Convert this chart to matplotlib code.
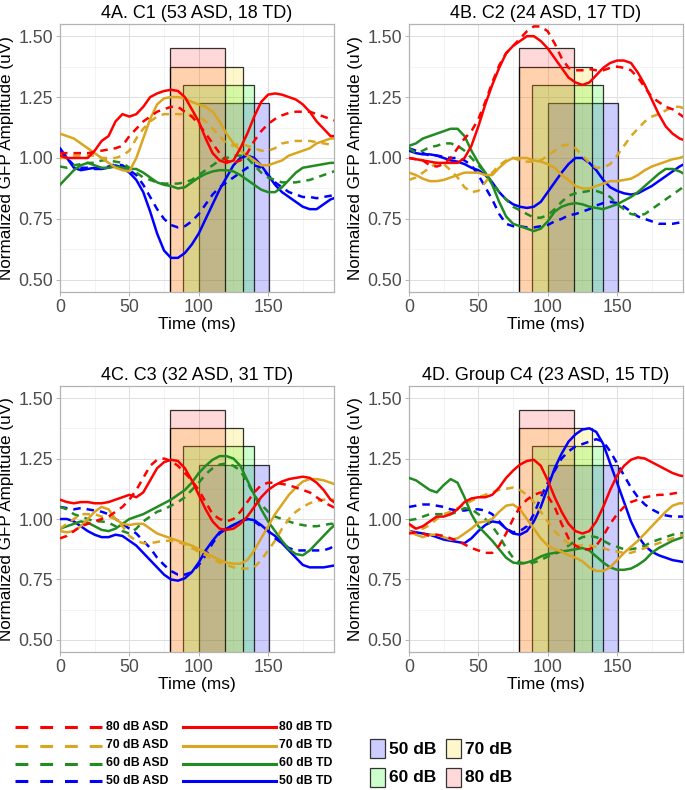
import numpy as np
import matplotlib.pyplot as plt
from matplotlib.colors import to_rgb
from matplotlib.patches import Rectangle
from matplotlib.lines import Line2D

plt.rcParams['font.family'] = ['Liberation Sans', 'DejaVu Sans']

# time axis (ms), one reading every 5 ms
TIME = np.arange(0, 201, 5)

# ---- 4A. C1 ----
A_TD80 = [1.01,1.00,1.00,1.00,1.00,1.03,1.07,1.09,1.15,1.18,1.17,1.18,1.21,1.25,1.265,1.275,1.28,1.275,1.25,1.20,1.15,1.08,1.02,0.99,0.98,0.99,1.04,1.10,1.17,1.23,1.26,1.265,1.26,1.25,1.24,1.22,1.19,1.15,1.12,1.09,1.09]
A_ASD80 = [1.02,1.02,1.02,1.02,1.02,1.025,1.03,1.035,1.04,1.05,1.09,1.12,1.15,1.17,1.19,1.20,1.21,1.21,1.19,1.17,1.14,1.10,1.06,1.02,0.99,0.98,0.99,1.02,1.07,1.11,1.14,1.16,1.175,1.185,1.19,1.19,1.19,1.18,1.17,1.16,1.15]
A_TD70 = [1.10,1.09,1.08,1.06,1.04,1.02,1.00,0.98,0.96,0.95,0.945,1.00,1.08,1.16,1.22,1.245,1.25,1.25,1.245,1.23,1.22,1.21,1.19,1.15,1.10,1.06,1.03,1.01,0.99,0.97,0.97,0.98,0.99,1.01,1.02,1.03,1.04,1.06,1.07,1.08,1.08]
A_ASD70 = [1.00,1.00,1.01,1.01,1.01,1.01,1.00,1.00,1.00,1.01,1.03,1.08,1.12,1.15,1.17,1.18,1.18,1.18,1.18,1.175,1.17,1.15,1.12,1.09,1.06,1.05,1.06,1.05,1.04,1.03,1.03,1.04,1.06,1.065,1.07,1.07,1.07,1.065,1.06,1.055,1.05]
A_TD60 = [0.89,0.92,0.95,0.97,0.98,0.97,0.96,0.96,0.965,0.96,0.955,0.955,0.94,0.92,0.90,0.89,0.885,0.875,0.88,0.90,0.92,0.935,0.945,0.95,0.95,0.945,0.93,0.91,0.89,0.87,0.86,0.86,0.88,0.91,0.94,0.96,0.965,0.97,0.975,0.98,0.98]
A_ASD60 = [0.965,0.96,0.97,0.975,0.98,0.98,0.99,0.99,0.985,0.98,0.96,0.94,0.92,0.91,0.90,0.895,0.895,0.895,0.90,0.91,0.93,0.95,0.97,0.99,1.00,1.01,1.01,1.00,0.97,0.94,0.92,0.91,0.90,0.90,0.90,0.905,0.91,0.92,0.93,0.94,0.95]
A_TD50 = [1.04,1.00,0.96,0.95,0.955,0.96,0.955,0.96,0.97,0.96,0.94,0.91,0.86,0.78,0.69,0.62,0.59,0.59,0.61,0.645,0.69,0.75,0.81,0.87,0.92,0.97,1.00,1.01,1.00,0.97,0.93,0.89,0.86,0.84,0.82,0.80,0.79,0.79,0.81,0.83,0.84]
A_ASD50 = [1.03,1.00,0.97,0.96,0.96,0.955,0.955,0.965,0.975,0.97,0.95,0.93,0.89,0.84,0.79,0.75,0.725,0.715,0.72,0.74,0.77,0.81,0.85,0.88,0.90,0.92,0.94,0.96,0.97,0.96,0.93,0.90,0.88,0.86,0.85,0.84,0.84,0.835,0.84,0.845,0.85]

# ---- 4B. C2 ----
B_TD80 = [1.00,0.995,0.99,0.985,0.98,0.98,0.98,0.98,1.00,1.05,1.13,1.22,1.30,1.37,1.43,1.46,1.48,1.50,1.50,1.48,1.45,1.41,1.37,1.33,1.31,1.30,1.31,1.34,1.37,1.39,1.40,1.40,1.39,1.35,1.30,1.24,1.18,1.13,1.10,1.08,1.07]
B_ASD80 = [1.00,0.995,0.99,0.97,0.965,0.975,1.00,1.04,1.08,1.11,1.16,1.23,1.31,1.38,1.43,1.46,1.49,1.52,1.54,1.54,1.52,1.47,1.41,1.37,1.36,1.36,1.365,1.36,1.36,1.37,1.375,1.37,1.36,1.33,1.29,1.25,1.23,1.21,1.20,1.18,1.16]
B_TD70 = [0.94,0.93,0.915,0.905,0.905,0.91,0.92,0.93,0.94,0.94,0.94,0.93,0.93,0.96,0.985,1.00,1.00,1.00,0.99,0.985,0.975,0.96,0.93,0.91,0.885,0.875,0.875,0.885,0.895,0.905,0.905,0.91,0.915,0.93,0.95,0.965,0.975,0.985,0.995,1.00,1.01]
B_ASD70 = [0.91,0.92,0.94,0.96,0.98,0.975,0.95,0.92,0.88,0.86,0.865,0.90,0.94,0.97,0.99,1.00,0.99,0.985,0.985,0.99,1.01,1.03,1.05,1.055,1.04,1.01,0.98,0.96,0.96,0.975,1.01,1.05,1.09,1.12,1.15,1.17,1.18,1.195,1.21,1.21,1.20]
B_TD60 = [1.05,1.06,1.08,1.09,1.10,1.11,1.12,1.12,1.09,1.03,0.98,0.94,0.89,0.82,0.76,0.73,0.72,0.71,0.70,0.71,0.74,0.78,0.80,0.81,0.815,0.81,0.80,0.795,0.79,0.80,0.81,0.825,0.84,0.86,0.885,0.91,0.935,0.955,0.955,0.945,0.93]
B_ASD60 = [1.04,1.02,1.03,1.045,1.05,1.06,1.06,1.05,1.03,1.00,0.97,0.94,0.90,0.86,0.83,0.80,0.785,0.77,0.755,0.755,0.765,0.79,0.82,0.845,0.855,0.86,0.865,0.865,0.855,0.84,0.81,0.79,0.77,0.765,0.77,0.79,0.81,0.83,0.85,0.87,0.89]
B_TD50 = [1.03,1.02,1.015,1.015,1.01,1.00,0.99,0.985,0.975,0.96,0.95,0.93,0.90,0.86,0.83,0.81,0.80,0.795,0.80,0.82,0.86,0.90,0.94,0.975,1.00,1.00,0.98,0.95,0.91,0.88,0.865,0.855,0.85,0.855,0.87,0.885,0.905,0.925,0.945,0.965,0.98]
B_ASD50 = [1.04,1.03,1.02,1.01,1.01,1.005,1.00,1.00,0.99,0.97,0.93,0.88,0.83,0.77,0.73,0.72,0.72,0.715,0.715,0.72,0.725,0.74,0.75,0.765,0.77,0.78,0.79,0.805,0.815,0.82,0.815,0.80,0.78,0.76,0.75,0.74,0.73,0.73,0.73,0.735,0.74]

# ---- 4C. C3 ----
C_TD80 = [1.08,1.07,1.065,1.07,1.07,1.065,1.065,1.07,1.08,1.09,1.10,1.09,1.11,1.16,1.21,1.235,1.245,1.24,1.21,1.16,1.10,1.04,0.99,0.96,0.955,0.96,0.98,1.01,1.05,1.09,1.12,1.14,1.155,1.165,1.17,1.175,1.17,1.15,1.12,1.08,1.06]
C_ASD80 = [0.92,0.93,0.95,0.97,0.98,0.99,1.00,1.01,1.03,1.05,1.08,1.12,1.17,1.22,1.245,1.25,1.24,1.22,1.19,1.16,1.12,1.07,1.02,1.00,0.99,1.00,1.03,1.07,1.11,1.14,1.15,1.15,1.145,1.14,1.13,1.12,1.11,1.09,1.07,1.055,1.04]
C_TD70 = [0.95,0.945,0.95,0.97,1.00,1.03,1.05,1.04,1.00,0.98,0.975,0.98,0.98,0.96,0.94,0.93,0.92,0.91,0.90,0.89,0.875,0.86,0.845,0.83,0.82,0.815,0.815,0.83,0.87,0.92,0.97,1.02,1.06,1.10,1.13,1.155,1.165,1.165,1.16,1.15,1.14]
C_ASD70 = [0.96,0.98,1.00,1.02,1.02,1.02,1.01,1.01,1.00,0.97,0.93,0.91,0.90,0.90,0.905,0.91,0.91,0.905,0.895,0.88,0.865,0.85,0.835,0.82,0.81,0.80,0.795,0.795,0.80,0.83,0.87,0.91,0.96,1.00,1.03,1.05,1.065,1.075,1.08,1.08,1.08]
C_TD60 = [0.96,0.97,0.98,0.99,0.985,0.97,0.955,0.95,0.96,0.98,1.00,1.01,1.02,1.035,1.05,1.065,1.08,1.10,1.12,1.15,1.19,1.22,1.245,1.26,1.26,1.25,1.22,1.16,1.10,1.04,0.99,0.95,0.91,0.875,0.855,0.85,0.87,0.90,0.93,0.96,0.985]
C_ASD60 = [1.05,1.04,1.02,1.01,1.00,0.99,0.99,0.985,0.97,0.95,0.94,0.96,0.99,1.01,1.03,1.04,1.055,1.07,1.09,1.12,1.15,1.185,1.21,1.225,1.23,1.22,1.20,1.15,1.10,1.06,1.03,1.01,1.00,0.99,0.98,0.975,0.97,0.97,0.975,0.98,0.98]
C_TD50 = [1.00,1.00,0.99,0.97,0.95,0.935,0.925,0.925,0.935,0.93,0.91,0.89,0.86,0.83,0.80,0.77,0.75,0.745,0.755,0.78,0.82,0.87,0.91,0.945,0.96,0.975,0.99,1.00,0.995,0.975,0.95,0.93,0.90,0.87,0.84,0.81,0.80,0.80,0.80,0.805,0.81]
C_ASD50 = [1.05,1.045,1.04,1.045,1.04,1.035,1.03,1.02,1.00,0.98,0.96,0.94,0.91,0.88,0.84,0.81,0.785,0.77,0.77,0.78,0.81,0.85,0.90,0.94,0.96,0.975,0.99,1.00,0.99,0.97,0.95,0.92,0.90,0.88,0.87,0.87,0.87,0.87,0.87,0.88,0.90]

# ---- 4D. Group C4 ----
D_TD80 = [0.98,0.96,0.97,0.99,1.01,1.01,1.02,1.04,1.07,1.085,1.09,1.09,1.10,1.13,1.17,1.20,1.225,1.24,1.245,1.22,1.16,1.09,1.03,0.98,0.95,0.94,0.95,0.99,1.05,1.12,1.18,1.22,1.245,1.255,1.25,1.235,1.22,1.205,1.19,1.18,1.175]
D_ASD80 = [0.94,0.945,0.94,0.93,0.935,0.93,0.92,0.91,0.895,0.88,0.87,0.86,0.86,0.89,0.94,1.00,1.05,1.08,1.10,1.11,1.095,1.05,0.98,0.92,0.89,0.875,0.875,0.89,0.93,0.98,1.02,1.05,1.07,1.08,1.09,1.095,1.10,1.10,1.105,1.11,1.11]
D_TD70 = [0.95,0.935,0.925,0.935,0.935,0.925,0.915,0.92,0.94,0.96,0.985,0.99,1.00,1.03,1.055,1.06,1.04,1.00,0.96,0.92,0.89,0.875,0.865,0.85,0.84,0.825,0.80,0.785,0.785,0.80,0.83,0.86,0.885,0.91,0.94,0.97,1.00,1.03,1.055,1.065,1.065]
D_ASD70 = [0.975,0.96,0.96,0.975,1.00,1.02,1.03,1.045,1.06,1.075,1.09,1.10,1.11,1.12,1.125,1.13,1.12,1.10,1.07,1.03,0.99,0.95,0.92,0.90,0.89,0.89,0.89,0.885,0.88,0.87,0.865,0.86,0.86,0.87,0.88,0.89,0.90,0.91,0.92,0.93,0.935]
D_TD60 = [1.17,1.16,1.14,1.12,1.11,1.14,1.165,1.15,1.09,1.02,0.97,0.94,0.91,0.875,0.84,0.82,0.815,0.82,0.83,0.845,0.855,0.86,0.865,0.87,0.875,0.88,0.87,0.845,0.82,0.80,0.79,0.79,0.795,0.81,0.83,0.86,0.88,0.895,0.91,0.92,0.93]
D_ASD60 = [0.995,1.00,1.01,1.02,1.02,1.02,1.02,1.03,1.045,1.04,1.02,1.00,0.97,0.93,0.88,0.84,0.82,0.815,0.82,0.83,0.845,0.855,0.87,0.89,0.91,0.925,0.93,0.925,0.91,0.895,0.885,0.875,0.875,0.88,0.89,0.905,0.915,0.925,0.935,0.94,0.945]
D_TD50 = [0.95,0.945,0.94,0.935,0.925,0.915,0.91,0.905,0.90,0.92,0.95,0.975,0.99,0.985,0.96,0.94,0.935,0.95,0.99,1.05,1.13,1.21,1.27,1.32,1.35,1.37,1.375,1.36,1.31,1.23,1.15,1.07,0.99,0.93,0.89,0.865,0.85,0.84,0.83,0.825,0.82]
D_ASD50 = [1.05,1.055,1.06,1.06,1.055,1.05,1.04,1.035,1.035,1.04,1.04,1.035,1.02,0.99,0.96,0.945,0.95,0.97,1.02,1.09,1.15,1.20,1.25,1.28,1.30,1.31,1.32,1.33,1.32,1.28,1.23,1.18,1.13,1.09,1.06,1.04,1.025,1.015,1.01,1.01,1.01]

TITLES = ['4A. C1 (53 ASD, 18 TD)', '4B. C2 (24 ASD, 17 TD)',
          '4C. C3 (32 ASD, 31 TD)', '4D. Group C4 (23 ASD, 15 TD)']
LEVELS = ['80', '70', '60', '50']
LINE_COLORS = ['#FF0000', '#DAA520', '#228B22', '#0000FF']

# analysis windows (50, 60, 70, 80 dB)
WIN_LABELS = ['50 dB', '60 dB', '70 dB', '80 dB']
WIN_START = [100, 89, 79, 79]
WIN_END = [151, 140, 132, 119]
WIN_TOP = [1.225, 1.30, 1.375, 1.45]
WIN_COLORS = ['#0000FF', '#00FF00', '#FFD700', '#FF0000']
WIN_ALPHA = [0.2, 0.2, 0.2, 0.15]

PANEL_DATA = [
    {'80': (A_ASD80, A_TD80), '70': (A_ASD70, A_TD70), '60': (A_ASD60, A_TD60), '50': (A_ASD50, A_TD50)},
    {'80': (B_ASD80, B_TD80), '70': (B_ASD70, B_TD70), '60': (B_ASD60, B_TD60), '50': (B_ASD50, B_TD50)},
    {'80': (C_ASD80, C_TD80), '70': (C_ASD70, C_TD70), '60': (C_ASD60, C_TD60), '50': (C_ASD50, C_TD50)},
    {'80': (D_ASD80, D_TD80), '70': (D_ASD70, D_TD70), '60': (D_ASD60, D_TD60), '50': (D_ASD50, D_TD50)},
]

W, H = 685, 790
# axes boxes in pixels: left, top, right, bottom
BOXES = [(60, 24, 334, 292), (409, 24, 683, 292), (60, 386, 334, 652), (409, 386, 683, 652)]

LW = 1.8
DASH = (3.0, 2.4)

fig = plt.figure(figsize=(W / 100, H / 100), dpi=100)

for k, (l, t, r, b) in enumerate(BOXES):
    ax = fig.add_axes([l / W, 1 - b / H, (r - l) / W, (b - t) / H])
    ax.set_xlim(0, 197.5)
    ax.set_ylim(0.45, 1.55)
    ax.set_xticks([0, 50, 100, 150])
    ax.set_xticks([25, 75, 125, 175], minor=True)
    ax.set_yticks([0.5, 0.75, 1.0, 1.25, 1.5])
    ax.set_yticklabels(['0.50', '0.75', '1.00', '1.25', '1.50'])
    ax.set_yticks([0.625, 0.875, 1.125, 1.375], minor=True)
    ax.grid(which='major', color='#DEDEDE', lw=0.7, zorder=0)
    ax.grid(which='minor', color='#EDEDED', lw=0.45, zorder=0)
    ax.set_axisbelow(True)
    for s in ax.spines.values():
        s.set_color('#B3B3B3'); s.set_linewidth(0.9)
    ax.tick_params(which='major', colors='#B3B3B3', length=3, width=0.7, labelsize=12.8,
                   labelcolor='#4D4D4D', pad=2)
    ax.tick_params(which='minor', length=0)

    for x0, x1, top, c, a in zip(WIN_START, WIN_END, WIN_TOP, WIN_COLORS, WIN_ALPHA):
        ax.add_patch(Rectangle((x0, 0.3), x1 - x0, top - 0.3, facecolor=(*to_rgb(c), a),
                               edgecolor=(0, 0, 0, 0.8), lw=0.9, zorder=2))

    for lev, col in zip(LEVELS[::-1], LINE_COLORS[::-1]):
        asd, td = PANEL_DATA[k][lev]
        ax.plot(TIME, asd, color=col, lw=LW, ls=(0, DASH), zorder=3)
        ax.plot(TIME, td, color=col, lw=LW, zorder=3)

    ax.set_title(TITLES[k], fontsize=13, pad=4)
    ax.set_xlabel('Time (ms)', fontsize=12.5, labelpad=1)
    ax.set_ylabel('Normalized GFP Amplitude (uV)', fontsize=12.3, labelpad=3)

# ---- legends drawn in figure pixel space ----
lg = fig.add_axes([0, 0, 1, 1], facecolor='none')
lg.set_xlim(0, W); lg.set_ylim(H, 0); lg.axis('off')
row_y = [727, 745.5, 763.5, 781]
for lev, col, y in zip(LEVELS, LINE_COLORS, row_y):
    lg.add_line(Line2D([15, 102], [y, y], color=col, lw=2.2, ls=(0, (4.2, 3.9))))
    lg.text(106, y, f'{lev} dB ASD', fontsize=8.8, fontweight='bold', va='center', ha='left')
    lg.add_line(Line2D([183, 276], [y, y], color=col, lw=2.2))
    lg.text(279, y, f'{lev} dB TD', fontsize=8.8, fontweight='bold', va='center', ha='left')

box_pos = {'50 dB': (370, 739), '70 dB': (446, 739), '60 dB': (370, 768), '80 dB': (446, 768)}
for lab, c, a in zip(WIN_LABELS, WIN_COLORS, WIN_ALPHA):
    x, y = box_pos[lab]
    lg.add_patch(Rectangle((x, y), 15, 19, facecolor=(*to_rgb(c), a),
                           edgecolor='#333333', lw=0.9))
    lg.text(x + 19, y + 10, lab, fontsize=12.5, fontweight='bold', va='center', ha='left')

fig.savefig('out.png', dpi=100)
